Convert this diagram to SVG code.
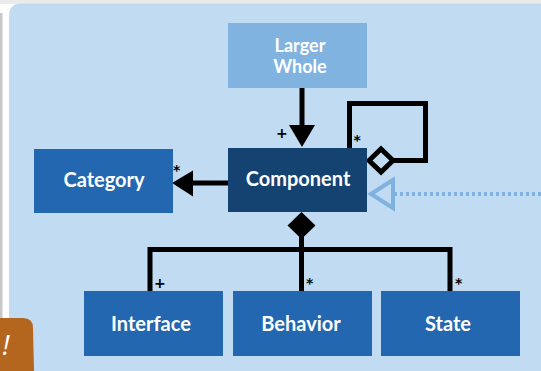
<svg xmlns="http://www.w3.org/2000/svg" width="541" height="371" viewBox="0 0 541 371">
  <defs>
    <style>
      .box { fill: #2267b0; }
      .label { font-family: Lato, "Open Sans", sans-serif; font-weight: bold; font-size: 20px; fill: #ffffff; text-anchor: middle; }
      .label.two-line { font-size: 18px; }
      .mult { font-family: "DejaVu Sans", "Liberation Sans", sans-serif; font-weight: bold; font-size: 14px; fill: #000000; }
      .wire { fill: none; stroke: #000000; stroke-width: 5; stroke-linejoin: miter; }
    </style>
  </defs>

  <!-- page background -->
  <rect x="0" y="0" width="541" height="371" fill="#ffffff"/>
  <rect x="0" y="0" width="541" height="4" fill="#ebebeb"/>
  <rect x="0" y="13" width="2.5" height="310" fill="#c8c8c8"/>

  <!-- panel -->
  <path d="M9 16 Q9 3.5 21 3.5 L541 3.5 L541 371 L9 371 Z" fill="#c1dbf2"/>

  <!-- side badge -->
  <g id="badge">
    <path d="M-6 318 L23 318 Q33 318 33 328 L34 371 L-6 371 Z" fill="#b4661f"/>
    <text x="6" y="355" font-family="Open Sans, sans-serif" font-style="italic" font-size="27" fill="#ffffff" text-anchor="middle">!</text>
  </g>

  <!-- connectors -->
  <g id="connectors">
    <!-- Larger Whole to Component -->
    <line class="wire" x1="302" y1="88" x2="302" y2="127"/>
    <polygon points="289,125 315,125 302,147" fill="#000000"/>
    <text class="mult" x="276" y="137.5">+</text>

    <!-- Component to Category -->
    <line class="wire" x1="228" y1="183" x2="191" y2="183"/>
    <polygon points="193,170.5 193,196.5 172,183" fill="#000000"/>
    <text class="mult" x="173" y="175">*</text>

    <!-- self aggregation -->
    <polyline class="wire" points="349.5,148 349.5,103.5 425.5,103.5 425.5,160.5 392,160.5"/>
    <polygon points="369,160.5 381,149 393,160.5 381,172" fill="none" stroke="#000000" stroke-width="5" stroke-linejoin="miter"/>
    <text class="mult" x="353.5" y="145">*</text>

    <!-- dotted realization from the right -->
    <line x1="541" y1="194" x2="395" y2="194" stroke="#7fb2e0" stroke-width="4" stroke-dasharray="3 3"/>
    <polygon points="371,194 393,180 393,208" fill="none" stroke="#7fb2e0" stroke-width="4" stroke-linejoin="miter"/>

    <!-- composition to parts -->
    <polygon points="301.5,212 315.5,225.5 301.5,239 287.5,225.5" fill="#000000"/>
    <line class="wire" x1="301.5" y1="237" x2="301.5" y2="291"/>
    <polyline class="wire" points="150,291 150,249.5 450,249.5 450,291"/>
    <text class="mult" x="154" y="287.5">+</text>
    <text class="mult" x="306" y="288">*</text>
    <text class="mult" x="455" y="288">*</text>
  </g>

  <!-- nodes -->
  <g id="larger-whole">
    <rect x="228" y="23" width="139" height="65" fill="#80b3e0"/>
    <text class="label two-line" x="300" y="52">Larger<tspan x="300" dy="20.5">Whole</tspan></text>
  </g>
  <g id="component">
    <rect x="228" y="148" width="139" height="64" fill="#144372"/>
    <text class="label" x="298" y="186">Component</text>
  </g>
  <g id="category">
    <rect class="box" x="34" y="149" width="139" height="64"/>
    <text class="label" x="104" y="187">Category</text>
  </g>
  <g id="interface">
    <rect class="box" x="84" y="291" width="139" height="65"/>
    <text class="label" x="151" y="331">Interface</text>
  </g>
  <g id="behavior">
    <rect class="box" x="233" y="291" width="139" height="65"/>
    <text class="label" x="301" y="331">Behavior</text>
  </g>
  <g id="state">
    <rect class="box" x="381" y="291" width="139" height="65"/>
    <text class="label" x="448" y="331">State</text>
  </g>
</svg>
